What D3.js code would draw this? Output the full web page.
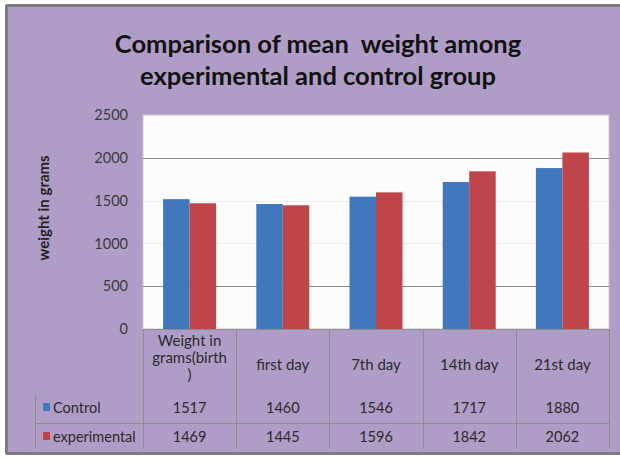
<!DOCTYPE html>
<html><head><meta charset="utf-8">
<script src="https://cdn.jsdelivr.net/npm/d3@7"></script>
<style>html,body{margin:0;padding:0;background:#fff;}svg{display:block;}text{white-space:pre;}</style>
</head><body>
<svg id="c" width="620" height="459"></svg>
<script>
const categories = [["Weight in","grams(birth",")"],["first day"],["7th day"],["14th day"],["21st day"]];
const seriesNames = ["Control","experimental"];
const control = [1517,1460,1546,1717,1880];
const experimental = [1469,1445,1596,1842,2062];
const yTicks = [0,500,1000,1500,2000,2500];
const colors = ["#4177BC","#C0454A"];
const titleLines = ["Comparison of mean  weight among","experimental and control group"];

const svg = d3.select("#c");
const font = "Lato, 'Open Sans', sans-serif";
// background
svg.append("rect").attr("x",7).attr("y",6).attr("width",613).attr("height",447).attr("fill","#B09DC7");
svg.append("line").attr("x1",6).attr("x2",620).attr("y1",5.5).attr("y2",5.5).attr("stroke","#7c7c7c").attr("stroke-width",3);
svg.append("line").attr("x1",6.5).attr("x2",6.5).attr("y1",5).attr("y2",454).attr("stroke","#7c7c7c").attr("stroke-width",3);
svg.append("line").attr("x1",6).attr("x2",620).attr("y1",453.5).attr("y2",453.5).attr("stroke","#7c7c7c").attr("stroke-width",3);

const L=143, R=609, T=115, B=329;
const x = d3.scaleBand().domain(d3.range(categories.length)).range([L,R]);
const y = d3.scaleLinear().domain([0,2500]).range([B,T]);
const xs = d3.scaleBand().domain([0,1]).range([0,53]);

svg.append("rect").attr("x",L).attr("y",T).attr("width",R-L).attr("height",B-T).attr("fill","#FCFCFC")
  .attr("stroke","#c8c8c8").attr("stroke-width",1);

// gridlines
svg.append("g").selectAll("line").data(yTicks.filter(d=>d>0 && d<2500)).join("line")
  .attr("x1",L).attr("x2",R).attr("y1",d=>Math.round(y(d))+0.5).attr("y2",d=>Math.round(y(d))+0.5)
  .attr("stroke",d=>(d===500||d===2000)?"#8c8c8c":"#ececec").attr("stroke-width",1);

// y axis labels
const yAxis = d3.axisLeft(y).tickValues(yTicks).tickFormat(d3.format("d")).tickSize(0).tickPadding(15);
const ga = svg.append("g").attr("transform",`translate(${L},0)`).call(yAxis);
ga.select(".domain").remove();
ga.selectAll("text").attr("font-family",font).attr("font-size",14.5).attr("fill","#3a3a3a");

// bars
const series=[control,experimental];
series.forEach((vals,si)=>{
  svg.append("g").selectAll("rect").data(vals).join("rect")
    .attr("x",(d,i)=>x(i)+(x.bandwidth()-53)/2+xs(si))
    .attr("width",xs.bandwidth())
    .attr("y",d=>y(d)).attr("height",d=>B-y(d))
    .attr("fill",colors[si]);
});

// axis line
svg.append("line").attr("x1",L).attr("x2",R).attr("y1",B+0.5).attr("y2",B+0.5).attr("stroke","#8c8c8c");

// table lines
const tl = svg.append("g").attr("stroke","#8c8c8c").attr("stroke-width",1);
d3.range(categories.length+1).forEach(i=>{
  const xx = i<categories.length? x(i): R;
  tl.append("line").attr("x1",Math.round(xx)+0.5).attr("x2",Math.round(xx)+0.5).attr("y1",B).attr("y2",449);
});
tl.append("line").attr("x1",35.5).attr("x2",35.5).attr("y1",395).attr("y2",449);
tl.append("line").attr("x1",35).attr("x2",R).attr("y1",423.5).attr("y2",423.5);

// category labels
categories.forEach((lines,i)=>{
  const cx = x(i)+x.bandwidth()/2;
  const n = lines.length;
  const y0 = n===1 ? 370 : 346;
  lines.forEach((t,j)=>{
    svg.append("text").attr("x",cx).attr("y",y0+j*17).attr("text-anchor","middle")
      .attr("font-family",font).attr("font-size",15).attr("fill","#2a2a2a").text(t);
  });
});

// series rows
const rowY=[413,442];
series.forEach((vals,si)=>{
  svg.append("rect").attr("x",43).attr("y",rowY[si]-10).attr("width",7).attr("height",8).attr("fill",colors[si]);
  svg.append("text").attr("x",53).attr("y",rowY[si]).attr("font-family",font).attr("font-size",14.5).attr("fill","#2a2a2a").text(seriesNames[si]);
  vals.forEach((v,i)=>{
    svg.append("text").attr("x",x(i)+x.bandwidth()/2).attr("y",rowY[si]).attr("text-anchor","middle")
      .attr("font-family",font).attr("font-size",14.5).attr("fill","#2a2a2a").text(v);
  });
});

// y title
svg.append("text").attr("transform","translate(49,208) rotate(-90)").attr("text-anchor","middle")
  .attr("font-family",font).attr("font-size",15).attr("font-weight","bold").attr("fill","#222").text("weight in grams");

// title
titleLines.forEach((t,j)=>{
  svg.append("text").attr("x",318).attr("y",53+j*32).attr("text-anchor","middle")
    .attr("font-family",font).attr("font-size",25.5).attr("font-weight","bold").attr("fill","#111").text(t);
});
</script>
</body></html>
